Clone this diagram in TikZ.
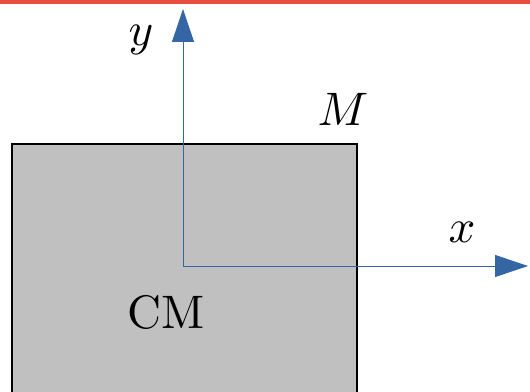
\documentclass[tikz,border=0pt]{standalone}
\usepackage{graphicx}
\usetikzlibrary{arrows.meta}
\definecolor{axisblue}{HTML}{3465A4}
\definecolor{topred}{HTML}{E74C3C}
\definecolor{boxgray}{HTML}{C0C0C0}
\newcommand{\bigtxt}[1]{\scalebox{4.7}{#1}}
\tikzset{
  axis/.style={draw=axisblue, line width=0.9pt, -{Triangle[length=33pt,width=22pt]}},
  lbl/.style={inner sep=0pt},
  body/.style={fill=boxgray, draw=black, line width=2pt}
}
\begin{document}
\begin{tikzpicture}[x=1pt,y=1pt]
\useasboundingbox (0,0) rectangle (530,391);
\clip (0,0) rectangle (530,391);
\fill[topred] (0,387) rectangle (530,391);
\path[body] (12,-10) rectangle (357,247);
\coordinate (o) at (183,125);
\coordinate (ytip) at (183,382);
\coordinate (xtip) at (528,125);
\draw[axis] (o) -- (ytip);
\draw[axis] (o) -- (xtip);
\node[lbl] (ylbl) at (141,351) {\bigtxt{$y$}};
\node[lbl] (xlbl) at (462,159) {\bigtxt{$x$}};
\node[lbl] (mlbl) at (343,281.5) {\bigtxt{$M$}};
\node[lbl] (cm) at (166,78.5) {\bigtxt{CM}};
\end{tikzpicture}
\end{document}
